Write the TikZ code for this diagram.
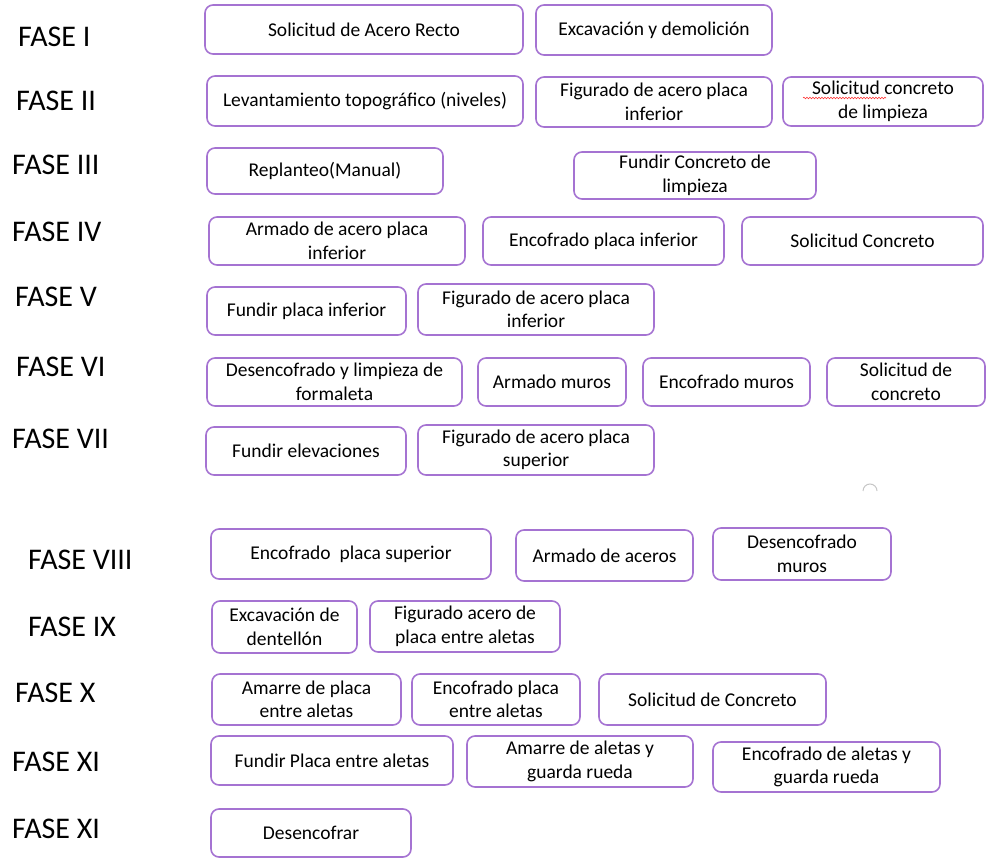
\documentclass[tikz,border=0pt]{standalone}
\usepackage{fontspec}
\setmainfont{Carlito}
\usepackage{tikz}
\usetikzlibrary{decorations.pathmorphing}
\definecolor{lila}{RGB}{165,115,210}

\begin{document}
\begin{tikzpicture}[x=1pt,y=-1pt,
  tarea/.style={draw=lila, line width=1.6pt, rounded corners=8pt, align=center,
    inner sep=2pt, font=\fontsize{19.5}{23.5}\selectfont, text=black},
  fase/.style={anchor=west, inner sep=0pt, font=\fontsize{30}{34}\selectfont, text=black}]
 \useasboundingbox (0,0) rectangle (987,858);

 %FASE I
 \node[fase] (f1) at (18,37) {FASE I};
 \node[tarea, minimum width=318, minimum height=49] (i1) at (364,29.5) {Solicitud de Acero Recto};
 \node[tarea, minimum width=236, minimum height=50] (i2) at (654,30) {Excavación y demolición};

 %FASE II
 \node[fase] (f2) at (16,101) {FASE II};
 \node[tarea, minimum width=316, minimum height=50] (ii1) at (365,101) {Levantamiento topográfico (niveles)};
 \node[tarea, minimum width=236, minimum height=50] (ii2) at (654,102) {Figurado de acero placa\\inferior};
 \node[tarea, minimum width=200, minimum height=49] (ii3) at (883,101.5) {Solicitud concreto\\de limpieza};
 \draw[red!80, line width=0.6pt, decorate, decoration={snake, amplitude=0.8pt, segment length=3pt}] (803,98) -- (886,98);

 %FASE III
 \node[fase] (f3) at (12,165) {FASE III};
 \node[tarea, minimum width=236, minimum height=46] (iii1) at (325,171) {Replanteo(Manual)};
 \node[tarea, minimum width=242, minimum height=47] (iii2) at (695,175.5) {Fundir Concreto de\\limpieza};

 %FASE IV
 \node[fase] (f4) at (12,232) {FASE IV};
 \node[tarea, minimum width=256, minimum height=48] (iv1) at (337,241) {Armado de acero placa\\inferior};
 \node[tarea, minimum width=241, minimum height=48] (iv2) at (603.5,241) {Encofrado placa inferior};
 \node[tarea, minimum width=241, minimum height=48] (iv3) at (862.5,241) {Solicitud Concreto};

 %FASE V
 \node[fase] (f5) at (15,297) {FASE V};
 \node[tarea, minimum width=199, minimum height=48] (v1) at (306.5,311) {Fundir placa inferior};
 \node[tarea, minimum width=236, minimum height=51] (v2) at (536,309.5) {Figurado de acero placa\\inferior};

 %FASE VI
 \node[fase] (f6) at (16,367) {FASE VI};
 \node[tarea, minimum width=255, minimum height=48] (vi1) at (334.5,382) {Desencofrado y limpieza de\\formaleta};
 \node[tarea, minimum width=148, minimum height=48] (vi2) at (552,382) {Armado muros};
 \node[tarea, minimum width=167, minimum height=48] (vi3) at (726.5,382) {Encofrado muros};
 \node[tarea, minimum width=158, minimum height=48] (vi4) at (906,382) {Solicitud de\\concreto};

 %FASE VII
 \node[fase] (f7) at (12,439) {FASE VII};
 \node[tarea, minimum width=200, minimum height=48] (vii1) at (306,451) {Fundir elevaciones};
 \node[tarea, minimum width=236, minimum height=50] (vii2) at (536,450) {Figurado de acero placa\\superior};
 \draw[gray!45, line width=1pt] (863,491) arc (180:360:7);

 %FASE VIII
 \node[fase] (f8) at (28,560) {FASE VIII};
 \node[tarea, minimum width=280, minimum height=50] (viii1) at (351,554) {Encofrado~ placa superior};
 \node[tarea, minimum width=177, minimum height=51] (viii2) at (604.5,555.5) {Armado de aceros};
 \node[tarea, minimum width=178, minimum height=52] (viii3) at (802,554) {Desencofrado\\muros};

 %FASE IX
 \node[fase] (f9) at (28,627) {FASE IX};
 \node[tarea, minimum width=145, minimum height=52] (ix1) at (284.5,627) {Excavación de\\dentellón};
 \node[tarea, minimum width=190, minimum height=51] (ix2) at (465,626.5) {Figurado acero de\\placa entre aletas};

 %FASE X
 \node[fase] (f10) at (15,693) {FASE X};
 \node[tarea, minimum width=189, minimum height=51] (x1) at (306.5,699.5) {Amarre de placa\\entre aletas};
 \node[tarea, minimum width=168, minimum height=51] (x2) at (496,699.5) {Encofrado placa\\entre aletas};
 \node[tarea, minimum width=227, minimum height=51] (x3) at (712.5,699.5) {Solicitud de Concreto};

 %FASE XI
 \node[fase] (f11) at (12,762) {FASE XI};
 \node[tarea, minimum width=242, minimum height=49] (xi1) at (332,760.5) {Fundir Placa entre aletas};
 \node[tarea, minimum width=226, minimum height=51] (xi2) at (580,761.5) {Amarre de aletas y\\guarda rueda};
 \node[tarea, minimum width=227, minimum height=50] (xi3) at (826.5,767) {Encofrado de aletas y\\guarda rueda};

 %FASE XI (otra)
 \node[fase] (f12) at (12,829) {FASE XI};
 \node[tarea, minimum width=200, minimum height=48] (xii1) at (311,833) {Desencofrar};
\end{tikzpicture}
\end{document}
